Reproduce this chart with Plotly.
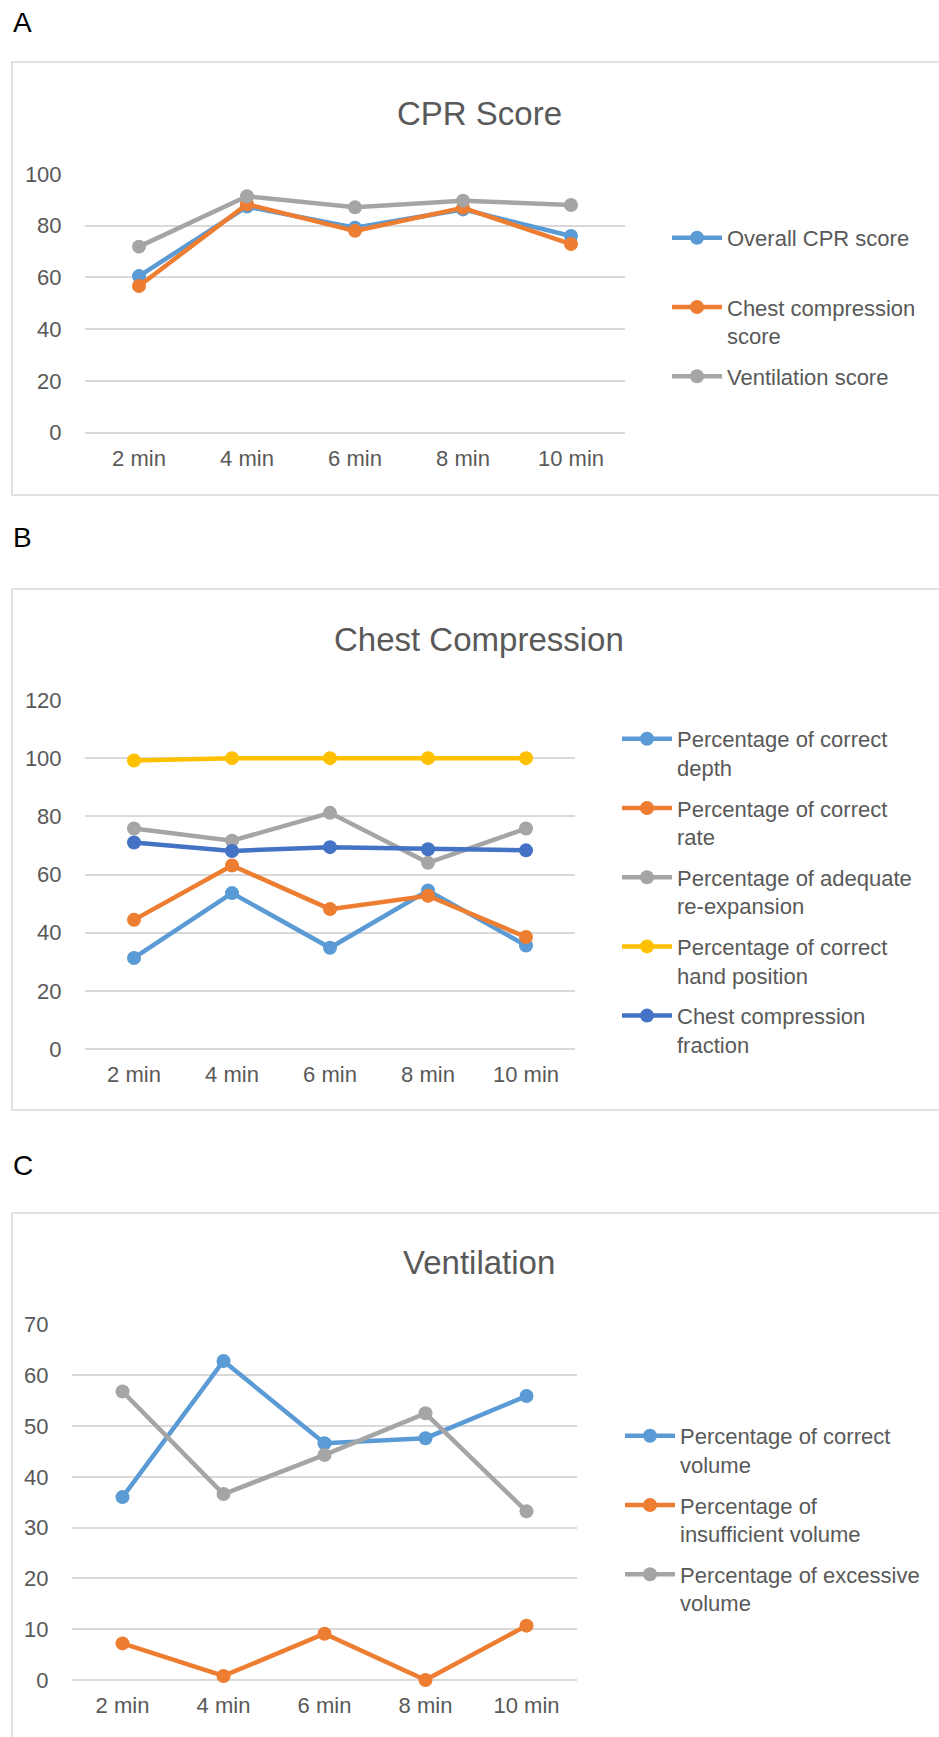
import plotly.graph_objects as go

W, H = 939, 1737

times = ["2 min", "4 min", "6 min", "8 min", "10 min"]

# Panel A - CPR Score
overall_cpr = [60.5, 87.4, 79.2, 86.3, 76.0]
chest_comp_score = [56.7, 88.3, 78.0, 86.9, 72.9]
ventilation_score = [71.9, 91.4, 87.1, 89.7, 88.0]

# Panel B - Chest Compression
correct_depth = [31.3, 53.6, 34.8, 54.5, 35.6]
correct_rate = [44.4, 63.1, 48.1, 52.7, 38.5]
adequate_reexp = [75.8, 71.6, 81.2, 64.0, 75.8]
correct_hand = [99.2, 100, 100, 100, 100]
cc_fraction = [71.0, 68.1, 69.4, 68.7, 68.3]

# Panel C - Ventilation
correct_volume = [36.0, 62.8, 46.6, 47.6, 55.9]
insufficient_volume = [7.2, 0.8, 9.1, 0.0, 10.7]
excessive_volume = [56.8, 36.6, 44.3, 52.5, 33.2]

BLUE = "#5B9BD5"
ORANGE = "#ED7D31"
GRAY = "#A5A5A5"
YELLOW = "#FFC000"
DBLUE = "#4472C4"
TXT = "#595959"
GRID = "#D9D9D9"
FONT = "Liberation Sans, Arial, sans-serif"


def px(p):
    return p / W


def py(p):
    return 1 - p / H


fig = go.Figure()

panels = [
    dict(ax="", leg="legend", series=[
        ("Overall CPR score<br> ", overall_cpr, BLUE),
        ("Chest compression<br>score", chest_comp_score, ORANGE),
        ("Ventilation score", ventilation_score, GRAY),
    ]),
    dict(ax="2", leg="legend2", series=[
        ("Percentage of correct<br>depth", correct_depth, BLUE),
        ("Percentage of correct<br>rate", correct_rate, ORANGE),
        ("Percentage of adequate<br>re-expansion", adequate_reexp, GRAY),
        ("Percentage of correct<br>hand position", correct_hand, YELLOW),
        ("Chest compression<br>fraction", cc_fraction, DBLUE),
    ]),
    dict(ax="3", leg="legend3", series=[
        ("Percentage of correct<br>volume", correct_volume, BLUE),
        ("Percentage of<br>insufficient volume", insufficient_volume, ORANGE),
        ("Percentage of excessive<br>volume", excessive_volume, GRAY),
    ]),
]

for pi, p in enumerate(panels):
    for si, (name, vals, col) in enumerate(p["series"]):
        fig.add_trace(go.Scatter(
            x=times, y=vals, name=name, mode="lines+markers",
            line=dict(color=col, width=4.5),
            marker=dict(color=col, size=14),
            xaxis="x" + p["ax"], yaxis="y" + p["ax"],
            legend=p["leg"], legendgroup=f"p{pi}s{si}",
            cliponaxis=False,
        ))

# geometry (pixels)
geo = {
    "": dict(x0=85, x1=625, y0=432.5, y1=174, rng=[0, 100], dt=20),
    "2": dict(x0=85, x1=575, y0=1049, y1=700, rng=[0, 120], dt=20),
    "3": dict(x0=72, x1=577, y0=1680, y1=1324.4, rng=[0, 70], dt=10),
}

layout = dict(
    width=W, height=H,
    margin=dict(l=0, r=0, t=0, b=0, pad=0, autoexpand=False),
    paper_bgcolor="white", plot_bgcolor="white",
    font=dict(family=FONT, size=22, color=TXT),
    showlegend=True,
)

for k, g in geo.items():
    layout["xaxis" + k] = dict(
        domain=[px(g["x0"]), px(g["x1"])], anchor="y" + k,
        type="category", range=[-0.5, 4.5],
        showgrid=False, showline=False, zeroline=False,
        ticks="outside", ticklen=6, tickcolor="rgba(0,0,0,0)",
        tickfont=dict(family=FONT, size=22, color=TXT),
        fixedrange=True, automargin=False,
    )
    layout["yaxis" + k] = dict(
        domain=[py(g["y0"]), py(g["y1"])], anchor="x" + k,
        range=g["rng"], dtick=g["dt"], tick0=0,
        showgrid=True, gridcolor=GRID, gridwidth=1.5,
        zeroline=True, zerolinecolor=GRID, zerolinewidth=1.5,
        showline=False,
        ticks="outside", ticklen=18, tickcolor="rgba(0,0,0,0)",
        tickfont=dict(family=FONT, size=22, color=TXT),
        fixedrange=True, automargin=False,
    )

leg_common = dict(
    font=dict(family=FONT, size=22, color=TXT),
    bgcolor="rgba(0,0,0,0)", borderwidth=0,
    valign="top", traceorder="grouped", tracegroupgap=9,
    xanchor="left", yanchor="top", itemwidth=50,
)
layout["legend"] = dict(x=px(667), y=py(217), **leg_common)
layout["legend2"] = dict(x=px(617), y=py(718), **leg_common)
layout["legend3"] = dict(x=px(620), y=py(1415), **leg_common)

fig.update_layout(**layout)

# panel boxes
boxes = [(62, 495), (589, 1110), (1213, 1760)]
for top, bot in boxes:
    fig.add_shape(type="rect", xref="paper", yref="paper",
                  x0=px(12), x1=px(960), y0=py(bot), y1=py(top),
                  line=dict(color=GRID, width=1.5), fillcolor="rgba(0,0,0,0)",
                  layer="below")

# panel letters
for lab, yc in [("A", 23), ("B", 538), ("C", 1165)]:
    fig.add_annotation(text=lab, xref="paper", yref="paper",
                       x=px(11), y=py(yc), xanchor="left", yanchor="middle",
                       showarrow=False,
                       font=dict(family=FONT, size=28, color="black"))

# chart titles
for t, yc in [("CPR Score", 113), ("Chest Compression", 639), ("Ventilation", 1262)]:
    fig.add_annotation(text=t, xref="paper", yref="paper",
                       x=px(479), y=py(yc), xanchor="center", yanchor="middle",
                       showarrow=False,
                       font=dict(family=FONT, size=33, color=TXT))

fig.write_html(
    "out.html",
    config=dict(displayModeBar=False),
    post_script="document.body.style.margin='0';document.body.style.overflow='hidden';",
)
